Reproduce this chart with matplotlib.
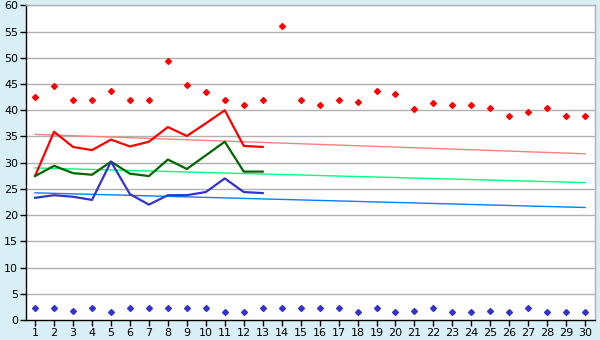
import matplotlib
matplotlib.use("Agg")
import matplotlib.pyplot as plt

days = list(range(1, 31))
red_points = [42.5, 44.7, 42.0, 42.0, 43.6, 42.0, 42.0, 49.4, 44.9, 43.4,
              42.0, 41.1, 42.0, 56.0, 42.0, 41.1, 42.0, 41.6, 43.7, 43.1,
              40.3, 41.4, 41.1, 41.1, 40.5, 39.0, 39.7, 40.5, 39.0, 39.0]
blue_points = [2.2, 2.2, 1.8, 2.2, 1.6, 2.2, 2.2, 2.2, 2.2, 2.2,
               1.6, 1.6, 2.2, 2.2, 2.2, 2.2, 2.2, 1.6, 2.2, 1.6,
               1.8, 2.2, 1.6, 1.6, 1.8, 1.6, 2.2, 1.6, 1.6, 1.6]
line_days = list(range(1, 14))
red_line = [27.5, 35.9, 33.0, 32.4, 34.4, 33.1, 34.0, 36.8, 35.1, 37.5, 40.0, 33.2, 33.0]
green_line = [27.45, 29.4, 28.0, 27.7, 30.2, 27.9, 27.45, 30.6, 28.8, 31.4, 34.0, 28.3, 28.3]
blue_line = [23.3, 23.8, 23.5, 22.9, 30.2, 24.0, 22.0, 23.8, 23.8, 24.4, 27.0, 24.4, 24.2]
trend_days = [1, 30]
red_trend = [35.4, 31.7]
green_trend = [29.0, 26.2]
blue_trend = [24.25, 21.45]

bg = "#D9EFF6"
fig = plt.figure(figsize=(6, 3.4), dpi=100, facecolor=bg)
ax = fig.add_axes([0.044, 0.059, 0.948, 0.925])
ax.set_facecolor("white")

for v in range(5, 61, 5):
    ax.axhline(v, color="#B0B0B0", lw=1.0, zorder=1)

ax.plot(trend_days, red_trend, color="#FF8080", lw=1.0, zorder=2)
ax.plot(trend_days, green_trend, color="#00FF80", lw=1.0, zorder=2)
ax.plot(trend_days, blue_trend, color="#0080FF", lw=1.0, zorder=2)

ax.plot(line_days, red_line, color="#FF0000", lw=1.6, zorder=3)
ax.plot(line_days, green_line, color="#006600", lw=1.6, zorder=3)
ax.plot(line_days, blue_line, color="#3333CC", lw=1.6, zorder=3)

ax.plot(days, red_points, linestyle="none", marker="D", markersize=3,
        color="#FF0000", zorder=4)
ax.plot(days, blue_points, linestyle="none", marker="D", markersize=3,
        color="#3333CC", zorder=4)

ax.set_xlim(0.54, 30.53)
ax.set_ylim(0, 60)
ax.set_xticks(days)
ax.set_yticks(range(0, 61, 5))
ax.tick_params(axis="both", direction="out", length=4, width=1, color="black",
               labelsize=8, pad=2)
for s in ["left", "bottom"]:
    ax.spines[s].set_color("black")
    ax.spines[s].set_linewidth(1)
for s in ["right", "top"]:
    ax.spines[s].set_color("#B0B0B0")
    ax.spines[s].set_linewidth(1)

fig.savefig("out.png", dpi=100, facecolor=bg)
